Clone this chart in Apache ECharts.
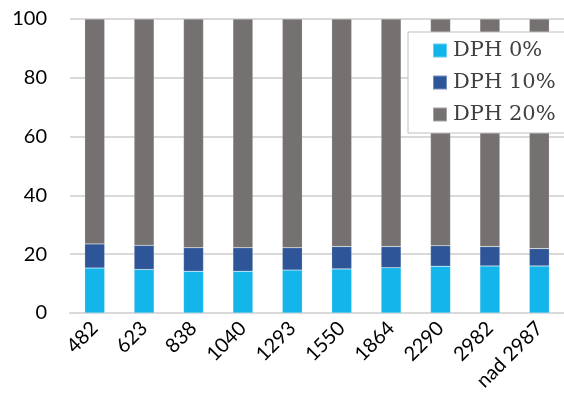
<!DOCTYPE html>
<html>
<head>
<meta charset="utf-8">
<script src="https://cdn.jsdelivr.net/npm/echarts@6/dist/echarts.min.js"></script>
<style>
  html, body { margin: 0; padding: 0; background: #fff; }
  #chart { width: 564px; height: 400px; }
</style>
</head>
<body>
<div id="chart"></div>
<script>
const categories = ['482', '623', '838', '1040', '1293', '1550', '1864', '2290', '2982', 'nad 2987'];
const dph0 = [15.3, 14.8, 14.2, 14.2, 14.6, 15.0, 15.4, 15.9, 16.0, 16.0];
const dph10 = [8.2, 8.2, 8.0, 8.0, 7.6, 7.6, 7.2, 7.0, 6.6, 5.9];
const dph20 = dph0.map((v, i) => +(100 - v - dph10[i]).toFixed(1));
const yTicks = [0, 20, 40, 60, 80, 100];

const chart = echarts.init(document.getElementById('chart'));
const bar = (name, data, color) => ({
  name: name,
  type: 'bar',
  stack: 'total',
  barWidth: 20,
  data: data,
  itemStyle: { color: color, borderColor: 'rgba(255,255,255,0.35)', borderWidth: 0.5 }
});

chart.setOption({
  animation: false,
  grid: { left: 70, right: 0, top: 19, bottom: 87 },
  legend: {
    orient: 'vertical',
    left: 408,
    top: 32,
    width: 155,
    padding: [8, 20, 8, 24],
    backgroundColor: '#fff',
    borderColor: '#bfbfbf',
    borderWidth: 1,
    borderRadius: 0,
    itemWidth: 14,
    itemHeight: 14,
    itemGap: 11,
    icon: 'rect',
    textStyle: { fontFamily: 'DejaVu Serif', fontSize: 21, lineHeight: 21, color: '#404040', padding: [0, 0, 0, 1] },
    data: ['DPH 0%', 'DPH 10%', 'DPH 20%']
  },
  xAxis: {
    type: 'category',
    data: categories,
    axisLine: { lineStyle: { color: '#d9d9d9', width: 2 } },
    axisTick: { show: false },
    axisLabel: {
      rotate: 45,
      interval: 0,
      margin: 12,
      fontFamily: 'Lato',
      fontSize: 20,
      color: '#000'
    }
  },
  yAxis: {
    type: 'value',
    min: yTicks[0],
    max: yTicks[yTicks.length - 1],
    interval: 20,
    axisLine: { show: false },
    axisTick: { show: false },
    splitLine: { lineStyle: { color: '#d9d9d9', width: 2 } },
    axisLabel: { margin: 23, fontFamily: 'Lato', fontSize: 20, color: '#000' }
  },
  series: [
    bar('DPH 0%', dph0, '#13b5ea'),
    bar('DPH 10%', dph10, '#2e5597'),
    bar('DPH 20%', dph20, '#767171')
  ]
});
</script>
</body>
</html>
